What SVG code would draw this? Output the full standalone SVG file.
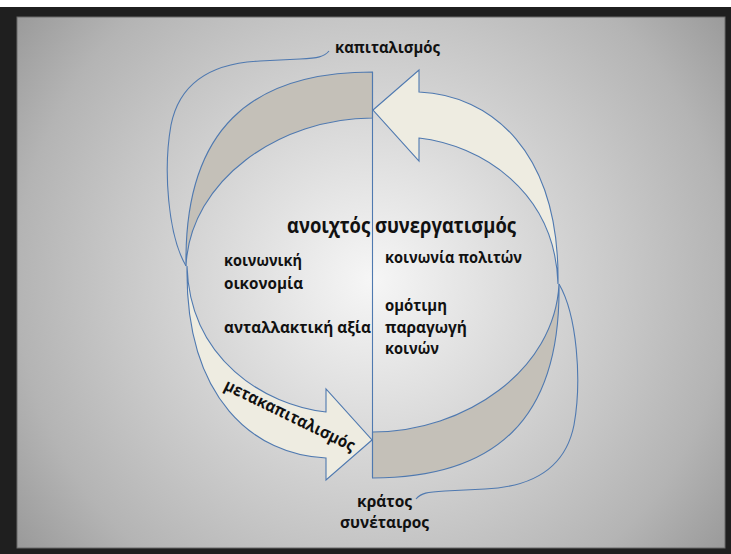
<svg xmlns="http://www.w3.org/2000/svg" width="731" height="554" viewBox="0 0 731 554">
  <defs>
    <radialGradient id="bg" gradientUnits="userSpaceOnUse" cx="372" cy="280" r="450">
      <stop offset="0" stop-color="#f6f6f6"/>
      <stop offset="0.58" stop-color="#c6c6c6"/>
      <stop offset="0.79" stop-color="#b4b4b4"/>
      <stop offset="1" stop-color="#989898"/>
    </radialGradient>
  </defs>
  <style>
    .shape { stroke: #4f79b0; stroke-width: 1.1; stroke-linejoin: miter; }
    .beige { fill: #eeece1; }
    .grey { fill: #c4c0b8; }
    .conn { fill: none; stroke: #4f79b0; stroke-width: 1.1; }
    .lbl { font-family: "Open Sans", "Noto Sans", sans-serif; font-weight: 700; font-size: 16.5px; fill: #111; }
    .title { font-size: 22px; font-weight: 700; }
  </style>

  <!-- surround -->
  <rect x="0" y="0" width="731" height="554" fill="#1f1f1f"/>
  <rect x="0" y="0" width="731" height="7" fill="#ffffff"/>
  <rect x="17" y="17" width="708" height="531" fill="url(#bg)" stroke="#6a6a6a" stroke-width="1"/>

  <g id="band-top">
    <path class="shape grey" d="M372.5,72 C250,72 184,130 186,266 C190,180 280,118 372.5,118 Z"/>
  </g>
  <g id="band-bottom">
    <path class="shape grey" transform="rotate(180 372.5 275)" d="M372.5,72 C250,72 184,130 186,266 C190,180 280,118 372.5,118 Z"/>
  </g>
  <g id="arrow-capitalism">
    <path class="shape beige" d="M373,110 L419,70 L419,92 C490,95 560,150 558,284 C555,190 480,145 419,138 L419,161 Z"/>
  </g>
  <g id="arrow-postcapitalism">
    <path class="shape beige" transform="rotate(180 372.5 275)" d="M373,110 L419,70 L419,92 C490,95 560,150 558,284 C555,190 480,145 419,138 L419,161 Z"/>
    <text class="lbl" transform="translate(223 389) rotate(26)" x="0" y="0" font-size="17" textLength="143" lengthAdjust="spacingAndGlyphs">μετακαπιταλισμός</text>
  </g>
  <g id="divider">
    <line class="conn" x1="372.5" y1="72" x2="372.5" y2="477"/>
  </g>

  <g id="connectors">
    <path class="conn" d="M329,51 C324,57 318,58 300,59 L260,61 C215,63 180,80 171,125 C163,170 168,235 186,266"/>
    <path class="conn" transform="rotate(180 372.5 275)" d="M329,51 C324,57 318,58 300,59 L260,61 C215,63 180,80 171,125 C163,170 168,235 186,266"/>
  </g>

  <g id="label-capitalism"><text class="lbl" x="335" y="53" textLength="105" lengthAdjust="spacingAndGlyphs">καπιταλισμός</text></g>
  <g id="label-open-coop"><text class="lbl title" x="287" y="233" textLength="229" lengthAdjust="spacingAndGlyphs">ανοιχτός συνεργατισμός</text></g>
  <g id="label-social-economy">
    <text class="lbl" x="224" y="266" textLength="78" lengthAdjust="spacingAndGlyphs">κοινωνική</text>
    <text class="lbl" x="224" y="289" textLength="79" lengthAdjust="spacingAndGlyphs">οικονομία</text>
  </g>
  <g id="label-exchange-value"><text class="lbl" x="224" y="333" textLength="147" lengthAdjust="spacingAndGlyphs">ανταλλακτική αξία</text></g>
  <g id="label-civil-society"><text class="lbl" x="385" y="263" textLength="137" lengthAdjust="spacingAndGlyphs">κοινωνία πολιτών</text></g>
  <g id="label-p2p">
    <text class="lbl" x="385" y="311" textLength="62" lengthAdjust="spacingAndGlyphs">ομότιμη</text>
    <text class="lbl" x="385" y="333" textLength="82" lengthAdjust="spacingAndGlyphs">παραγωγή</text>
    <text class="lbl" x="385" y="354" textLength="54" lengthAdjust="spacingAndGlyphs">κοινών</text>
  </g>
  <g id="label-partner-state">
    <text class="lbl" x="357" y="507" textLength="55" lengthAdjust="spacingAndGlyphs">κράτος</text>
    <text class="lbl" x="340" y="528" textLength="89" lengthAdjust="spacingAndGlyphs">συνέταιρος</text>
  </g>
</svg>
